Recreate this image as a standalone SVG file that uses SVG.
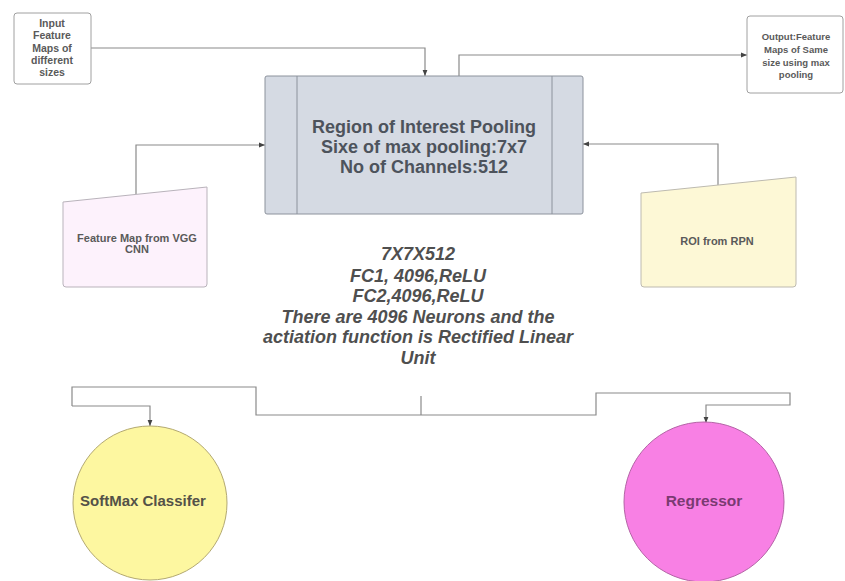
<svg xmlns="http://www.w3.org/2000/svg" width="845" height="581" viewBox="0 0 845 581">
  <style>
    .box { fill: #ffffff; stroke: #a0a0a0; stroke-width: 1; }
    .lbl { font-family: "Liberation Sans", Arial, sans-serif; font-weight: bold; fill: #5a5a5a; text-anchor: middle; }
    .big { font-family: "Liberation Sans", Arial, sans-serif; font-weight: bold; font-size: 18px; fill: #4d535c; text-anchor: middle; }
    .mid { font-family: "Liberation Sans", Arial, sans-serif; font-weight: bold; font-style: italic; font-size: 18px; fill: #4f4f4f; text-anchor: middle; }
    .conn { fill: none; stroke: #8a8a8a; stroke-width: 1.2; }
  </style>
  <defs>
    <marker id="arrow" viewBox="0 0 10 10" refX="10" refY="5" markerWidth="6" markerHeight="6" markerUnits="userSpaceOnUse" orient="auto">
      <path d="M0,1 L10,5 L0,9 z" fill="#444444"/>
    </marker>
  </defs>
  <rect width="845" height="581" fill="#ffffff"/>

  <!-- connectors -->
  <g id="connectors">
    <path class="conn" d="M91,48 H425 V76" marker-end="url(#arrow)"/>
    <path class="conn" d="M459,76 V55 H747" marker-end="url(#arrow)"/>
    <path class="conn" d="M136,194 V145 H265" marker-end="url(#arrow)"/>
    <path class="conn" d="M718,185 V144 H583" marker-end="url(#arrow)"/>
    <path class="conn" d="M72,406 V387 H256 V415 H596 V393 H790 V405 H706 V423" marker-end="url(#arrow)"/>
    <path class="conn" d="M72,406 H150 V426" marker-end="url(#arrow)"/>
    <path class="conn" d="M421,396 V415"/>
  </g>

  <!-- input node -->
  <g id="input-maps">
    <rect class="box" x="14" y="13" width="77" height="71" rx="3"/>
    <text class="lbl" font-size="10.5" x="52" y="27">Input</text>
    <text class="lbl" font-size="10.5" x="52" y="39">Feature</text>
    <text class="lbl" font-size="10.5" x="52" y="52">Maps of</text>
    <text class="lbl" font-size="10.5" x="52" y="64">different</text>
    <text class="lbl" font-size="10.5" x="52" y="76">sizes</text>
  </g>

  <!-- output node -->
  <g id="output-maps">
    <rect class="box" x="747" y="16" width="96" height="77" rx="3"/>
    <text class="lbl" font-size="9.5" x="796" y="40">Output:Feature</text>
    <text class="lbl" font-size="9.5" x="796" y="53">Maps of Same</text>
    <text class="lbl" font-size="9.5" x="796" y="66">size using max</text>
    <text class="lbl" font-size="9.5" x="796" y="78">pooling</text>
  </g>

  <!-- ROI pooling node -->
  <g id="roi-pooling">
    <rect x="265" y="76" width="318" height="138" rx="2" fill="#d5dae3" stroke="#8c929c" stroke-width="1"/>
    <line x1="297" y1="76" x2="297" y2="214" stroke="#8c929c" stroke-width="1"/>
    <line x1="552" y1="76" x2="552" y2="214" stroke="#8c929c" stroke-width="1"/>
    <text class="big" x="424" y="133">Region of Interest Pooling</text>
    <text class="big" x="424" y="153">Sixe of max pooling:7x7</text>
    <text class="big" x="424" y="173">No of Channels:512</text>
  </g>

  <!-- feature map node -->
  <g id="vgg-feature-map">
    <path d="M63,202 L207,187 V284 Q207,287 204,287 H66 Q63,287 63,284 Z" fill="#fdf2fc" stroke="#b9b3bb" stroke-width="1"/>
    <text class="lbl" font-size="11" x="137" y="242">Feature Map from VGG</text>
    <text class="lbl" font-size="11" x="137" y="253">CNN</text>
  </g>

  <!-- region proposals node -->
  <g id="roi-from-rpn">
    <path d="M641,193 L796,177 V284 Q796,287 793,287 H644 Q641,287 641,284 Z" fill="#fdf8d6" stroke="#bdbab0" stroke-width="1"/>
    <text class="lbl" font-size="11" x="717" y="245">ROI from RPN</text>
  </g>

  <!-- fully connected description -->
  <g id="fc-layers">
    <text class="mid" x="418" y="260">7X7X512</text>
    <text class="mid" x="418" y="282">FC1, 4096,ReLU</text>
    <text class="mid" x="418" y="302">FC2,4096,ReLU</text>
    <text class="mid" x="418" y="323">There are 4096 Neurons and the</text>
    <text class="mid" x="418" y="343">actiation function is Rectified Linear</text>
    <text class="mid" x="418" y="364">Unit</text>
  </g>

  <!-- classifier head -->
  <g id="softmax">
    <circle cx="150" cy="503" r="77" fill="#fdf7a0" stroke="#b3a972" stroke-width="1"/>
    <text font-family="Liberation Sans, Arial, sans-serif" font-weight="bold" font-size="15" fill="#545248" x="80" y="506">SoftMax Classifer</text>
  </g>

  <!-- regression head -->
  <g id="regressor">
    <circle cx="704" cy="502" r="80" fill="#f880e4" stroke="#b463a6" stroke-width="1"/>
    <text font-family="Liberation Sans, Arial, sans-serif" font-weight="bold" font-size="15.5" fill="#7a3a72" text-anchor="middle" x="704" y="506">Regressor</text>
  </g>
</svg>
